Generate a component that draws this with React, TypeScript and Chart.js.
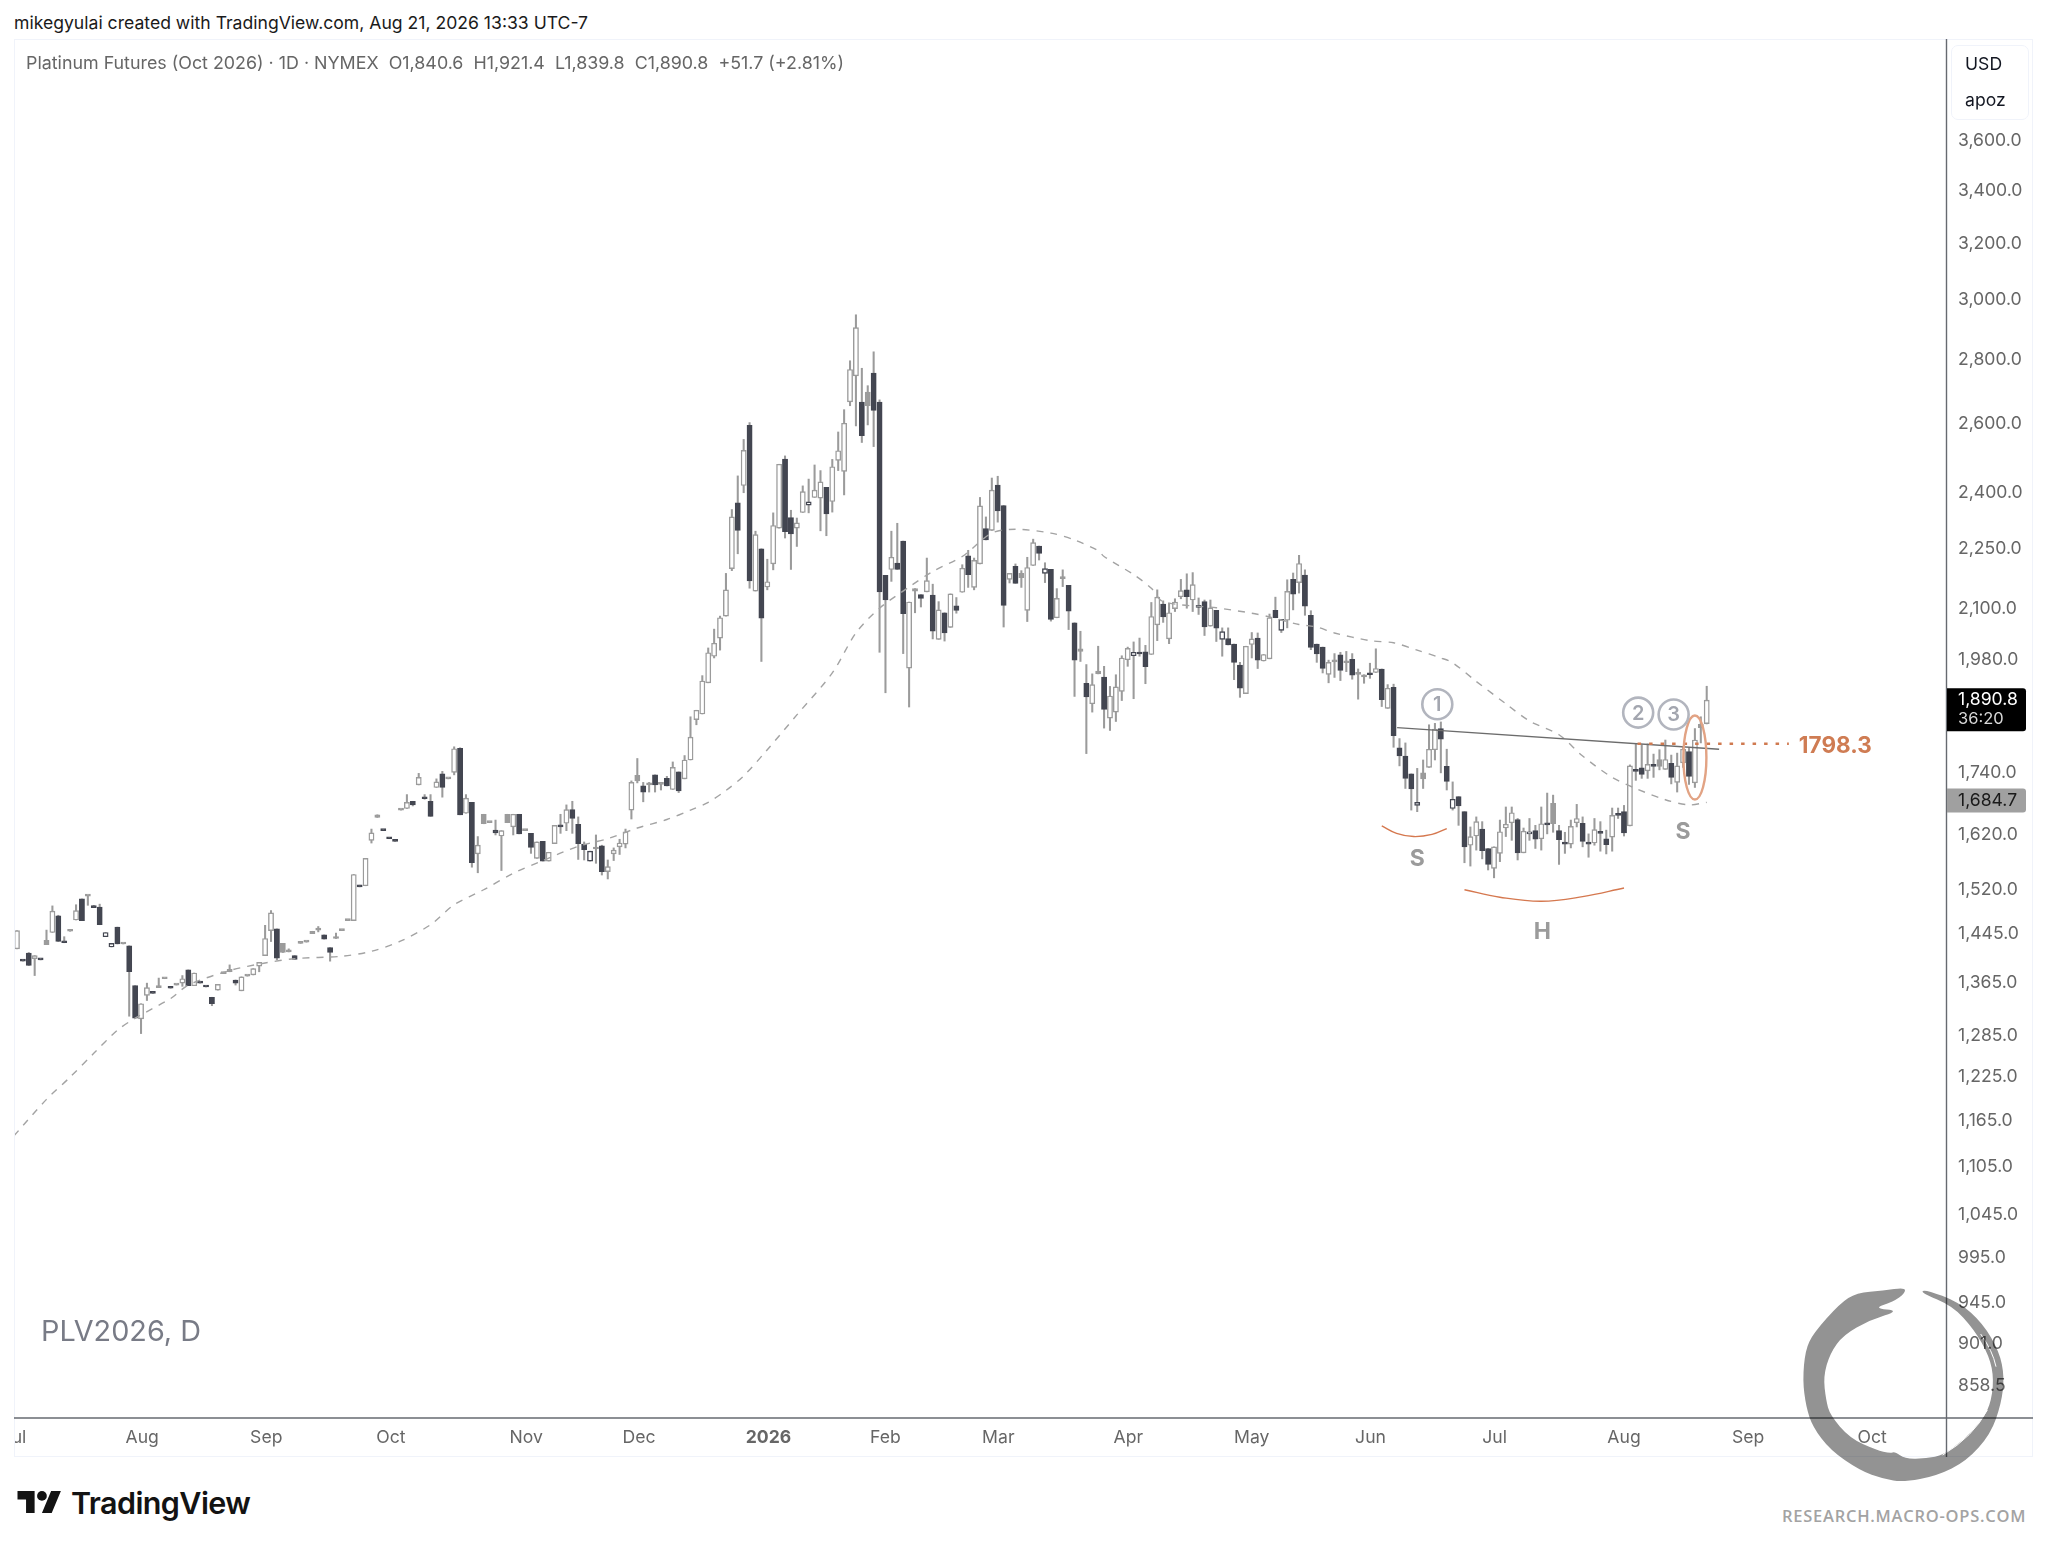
import React, { useEffect, useRef } from "react";
import { Chart, registerables } from "chart.js";

Chart.register(...registerables);

const opens = [
  1420,1402,1413,1404,1403,1427,1447,1475,1431,1449,
  1468,1504,1509,1491,1490,1440,1423,1456,1428,1425,
  1361,1310,1346,1350,1358,1372,1359,1362,1365,1386,
  1361,1366,1360,1343,1354,1380,1383,1370,1353,1376,
  1378,1392,1409,1450,1453,1414,1415,1409,1429,1431,
  1445,1451,1443,1422,1437,1450,1467,1467,1528,1527,
  1609,1652,1628,1614,1609,1666,1669,1683,1715,1690,
  1683,1710,1737,1727,1740,1789,1660,1681,1584,1640,
  1642,1628,1617,1642,1634,1658,1627,1622,1576,1607,
  1571,1603,1638,1641,1667,1639,1602,1571,1593,1599,
  1552,1584,1597,1602,1666,1723,1713,1715,1735,1716,
  1728,1706,1741,1727,1765,1849,1861,1929,1989,2031,
  2083,2200,2373,2421,2595,2144,2251,2154,2212,2305,
  2496,2333,2305,2347,2367,2388,2386,2416,2377,2492,
  2461,2666,2747,2665,2654,2756,2665,2183,2198,2214,
  2271,1962,2144,2135,2142,2134,2028,2091,2056,2108,
  2141,2233,2153,2212,2304,2299,2422,2366,2173,2206,
  2177,2097,2208,2258,2188,2198,2079,2175,2158,2067,
  2000,1928,1883,1949,1942,1852,1865,1910,1981,1990,
  1996,1999,1993,2062,2112,2029,2101,2130,2147,2122,
  2106,2118,2059,2097,2028,2030,2017,1969,1905,2016,
  2031,1978,1983,2097,2049,2073,2173,2165,2184,2085,
  2017,2010,1948,1976,1992,1974,1982,1948,1942,1948,
  1952,1960,1873,1919,1790,1773,1737,1675,1727,1750,
  1786,1830,1752,1669,1692,1663,1600,1617,1630,1594,
  1558,1585,1632,1642,1648,1586,1621,1627,1612,1640,
  1640,1627,1603,1602,1642,1641,1603,1604,1623,1612,
  1615,1658,1663,1636,1744,1749,1743,1754,1752,1746,
  1758,1720,1759,1782,1719,1832,1840.6,
];
const highs = [
  1450,1402,1414,1409,1403,1451,1492,1476,1440,1450,
  1494,1504,1510,1493,1495,1447,1429,1456,1429,1425,
  1361,1333,1365,1350,1373,1373,1359,1363,1377,1386,
  1381,1366,1360,1343,1363,1381,1394,1370,1375,1377,
  1388,1398,1459,1484,1453,1429,1420,1409,1430,1432,
  1449,1457,1443,1422,1446,1451,1468,1547,1528,1576,
  1630,1657,1628,1614,1609,1667,1696,1683,1738,1696,
  1696,1727,1742,1728,1792,1790,1696,1681,1616,1658,
  1643,1647,1627,1658,1658,1658,1628,1622,1606,1607,
  1587,1637,1658,1676,1683,1653,1606,1589,1619,1600,
  1573,1595,1611,1630,1723,1768,1720,1720,1735,1717,
  1732,1761,1741,1774,1855,1869,1945,2008,2052,2083,
  2188,2355,2448,2553,2603,2297,2251,2224,2346,2481,
  2505,2353,2332,2420,2439,2479,2463,2416,2495,2575,
  2642,2795,2947,2771,2716,2824,2672,2183,2297,2318,
  2271,2117,2150,2135,2227,2161,2118,2091,2137,2128,
  2210,2247,2227,2388,2335,2442,2447,2366,2188,2212,
  2195,2229,2276,2258,2215,2198,2150,2197,2158,2067,
  2047,1970,1949,2012,1966,1921,1947,1990,2010,2022,
  2031,2014,2116,2147,2120,2114,2125,2173,2187,2190,
  2127,2122,2122,2097,2055,2055,2017,1975,2012,2044,
  2043,1993,2088,2129,2075,2172,2189,2234,2197,2096,
  2017,2010,1980,1995,1998,2000,1995,1960,1947,1973,
  2006,1960,1925,1926,1809,1800,1737,1748,1765,1838,
  1841,1844,1787,1721,1692,1663,1634,1653,1644,1594,
  1597,1647,1672,1672,1650,1632,1650,1637,1672,1699,
  1695,1637,1624,1647,1677,1653,1621,1650,1644,1628,
  1670,1670,1675,1755,1798,1796,1798,1777,1786,1806,
  1775,1779,1792,1790,1830,1855,1921.4,
];
const lows = [
  1420,1400,1393,1377,1402,1427,1447,1432,1430,1449,
  1468,1467,1493,1489,1460,1440,1423,1428,1428,1314,
  1311,1288,1338,1349,1358,1372,1357,1362,1360,1361,
  1361,1365,1359,1330,1354,1380,1383,1362,1353,1376,
  1378,1383,1409,1432,1402,1414,1415,1403,1429,1431,
  1445,1448,1436,1400,1437,1450,1467,1467,1525,1527,
  1604,1652,1627,1612,1607,1666,1669,1674,1715,1687,
  1654,1710,1691,1727,1735,1657,1660,1560,1550,1640,
  1642,1619,1554,1642,1619,1621,1627,1585,1576,1571,
  1571,1603,1622,1627,1622,1574,1573,1571,1567,1546,
  1539,1572,1583,1595,1649,1719,1682,1701,1701,1705,
  1713,1706,1700,1727,1765,1838,1861,1929,1985,2003,
  2083,2195,2238,2401,2151,2144,1977,2147,2197,2305,
  2279,2198,2257,2347,2346,2388,2298,2285,2348,2463,
  2395,2654,2593,2544,2596,2532,1998,1907,2168,2198,
  1995,1876,2091,2105,2142,2029,2028,2024,2056,2090,
  2141,2153,2147,2212,2274,2299,2321,2057,2164,2163,
  2153,2070,2208,2222,2165,2071,2079,2155,2051,1899,
  1977,1778,1865,1949,1831,1826,1845,1890,1966,1894,
  1989,1927,1993,2025,2068,2018,2094,2125,2102,2094,
  2087,2037,2059,2023,1989,2015,1936,1897,1905,1985,
  1961,1978,1983,2079,2044,2055,2098,2139,2085,2004,
  1975,1951,1929,1941,1934,1954,1937,1893,1928,1939,
  1952,1877,1873,1791,1753,1708,1666,1663,1708,1750,
  1765,1739,1705,1666,1637,1568,1562,1591,1575,1555,
  1541,1570,1616,1609,1573,1586,1609,1594,1591,1621,
  1624,1565,1585,1595,1634,1597,1578,1600,1589,1584,
  1589,1650,1617,1636,1724,1728,1728,1730,1745,1746,
  1717,1701,1750,1716,1710,1800,1839.8,
];
const closes = [
  1450,1400,1393,1409,1402,1434,1483,1432,1430,1450,
  1484,1467,1510,1489,1460,1447,1429,1428,1429,1383,
  1311,1333,1358,1349,1359,1373,1357,1363,1372,1361,
  1381,1365,1359,1333,1363,1381,1387,1365,1375,1377,
  1388,1398,1437,1480,1405,1429,1417,1403,1430,1432,
  1449,1452,1436,1414,1439,1451,1468,1547,1525,1576,
  1623,1657,1627,1612,1607,1667,1681,1676,1730,1688,
  1654,1721,1710,1728,1788,1657,1689,1568,1600,1658,
  1643,1623,1627,1658,1658,1621,1628,1596,1606,1571,
  1587,1637,1634,1667,1650,1603,1592,1589,1594,1552,
  1561,1591,1604,1625,1720,1734,1701,1717,1715,1717,
  1713,1750,1703,1765,1812,1869,1933,1997,2019,2079,
  2147,2335,2299,2521,2169,2288,2078,2167,2312,2481,
  2296,2290,2319,2404,2376,2408,2431,2343,2474,2520,
  2601,2767,2904,2564,2696,2640,2142,2122,2229,2198,
  2089,2117,2150,2126,2170,2047,2098,2043,2137,2097,
  2201,2185,2221,2365,2274,2408,2351,2109,2188,2163,
  2188,2203,2267,2239,2200,2075,2126,2176,2095,1980,
  2006,1898,1925,1955,1871,1900,1920,1985,2007,1998,
  1994,1965,2082,2129,2081,2091,2117,2145,2130,2160,
  2104,2057,2103,2054,2046,2015,1975,1917,2012,2029,
  1980,1993,2079,2079,2075,2143,2136,2213,2107,2009,
  1994,1961,1975,1979,1957,1976,1946,1951,1947,1947,
  1961,1892,1917,1815,1773,1728,1707,1681,1739,1787,
  1829,1808,1722,1687,1674,1597,1616,1644,1590,1565,
  1597,1625,1639,1661,1586,1626,1624,1611,1640,1638,
  1679,1610,1602,1635,1650,1607,1602,1629,1622,1601,
  1656,1656,1623,1753,1742,1736,1756,1752,1766,1766,
  1730,1753,1787,1732,1806,1839.1,1890.8,
];
// candle numbers (1-based) drawn solid grey / outlined dark
const greyCandles = [6,10,13,19,25,26,28,36,37,40,46,47,49,50,51,52,55,56,57,62,66,74,80,81,84,87,99,106,108,110,145,153,171,178,181,184,224,226,228,229,239,261,279,286];
const outlinedCandles = [16,17,98,135,175,190,205,215,238,244,257];

const maBars = [-0.5,5,9,13,17,20,26,29,36,42,47,55,60,65,70,74,79,84,89,95,100,105,110,114,117,120,123,127,132,138,142,146,151,155,160,165,169,175,179,183,184,189,192,194,203,209,212,217,220,223,229,233,237,241,243,247,252,256,261,265,270,274,279,283,286];
const maValues = [1145,1194,1225,1259,1293,1311,1341,1362,1385,1397,1404,1408,1416,1433,1460,1494,1520,1549,1572,1598,1612,1632,1648,1666,1681,1704,1733,1786,1859,1951,2043,2102,2154,2193,2231,2292,2302,2292,2274,2246,2231,2185,2151,2118,2103,2090,2081,2063,2057,2043,2025,2020,2003,1985,1974,1932,1883,1846,1817,1773,1730,1708,1686,1676,1681];

const priceTicks = [3600,3400,3200,3000,2800,2600,2400,2250,2100,1980,1860,1740,1620,1520,1445,1365,1285,1225,1165,1105,1045,995,945,901,858.5];
const monthLabels = ["Jul","Aug","Sep","Oct","Nov","Dec","2026","Feb","Mar","Apr","May","Jun","Jul","Aug","Sep","Oct"];
const monthBars = [-0.5,21.2,42.2,63.3,86.2,105.3,127.2,147,166.1,188.1,209,229.1,250.1,272,293,314];

const neckBars = [233.6,288.1];
const neckPrices = [1832,1787];
const leftCurveBars = [231,233.5,236.4,239.5,242];
const leftCurvePrices = [1636,1622,1616,1620,1631];
const headCurveBars = [245,251,258,265,272];
const headCurvePrices = [1520,1507,1500,1508,1523];
const levelValue = 1798.3;
const levelBars = [274.3,299.9];
const lastClose = 1890.8;
const maLast = 1684.7;

const patternLabels = ["S","H","S"];
const patternBars = [237,258.2,282];
const patternPrices = [1575,1447,1624];
const circleLabels = ["1","2","3"];
const circleBars = [240.4,274.4,280.4];
const circlePrices = [1882,1864,1860];
const ellipseBar = 284;
const ellipsePrice = 1770;

const FONT = "Inter, 'Noto Sans', sans-serif";
const W = 2019, H = 1418;
const noPad = (s: any) => { s.paddingLeft = 0; s.paddingRight = 0; s.paddingTop = 0; s.paddingBottom = 0; };

const overlay = {
  id: "overlay",
  afterDatasetsDraw(chart: any) {
    const { ctx, chartArea, scales } = chart;
    const x = scales.x, y = scales.y;
    const L = chartArea.left, R = chartArea.right, B = chartArea.bottom;
    ctx.save();
    ctx.strokeStyle = "#f0f3fa"; ctx.lineWidth = 1;
    ctx.strokeRect(0.5, 0.5, W - 1, H - 1);
    ctx.strokeStyle = "#666a70"; ctx.lineWidth = 1.4;
    ctx.beginPath(); ctx.moveTo(R + 0.5, 0); ctx.lineTo(R + 0.5, H); ctx.stroke();
    ctx.beginPath(); ctx.moveTo(L, B); ctx.lineTo(W, B); ctx.stroke();
    ctx.strokeStyle = "#d07a50"; ctx.lineWidth = 2.5; ctx.setLineDash([3.5, 8]);
    ctx.beginPath();
    ctx.moveTo(x.getPixelForValue(levelBars[0]), y.getPixelForValue(levelValue));
    ctx.lineTo(x.getPixelForValue(levelBars[1]), y.getPixelForValue(levelValue));
    ctx.stroke(); ctx.setLineDash([]);
    ctx.fillStyle = "#cf7c53"; ctx.font = "700 22.5px " + FONT; ctx.textAlign = "left"; ctx.textBaseline = "middle";
    ctx.fillText(String(levelValue), x.getPixelForValue(levelBars[1]) + 10, y.getPixelForValue(levelValue) + 2);
    ctx.strokeStyle = "#e2a384"; ctx.lineWidth = 2.4;
    ctx.beginPath();
    ctx.ellipse(x.getPixelForValue(ellipseBar), y.getPixelForValue(ellipsePrice), 11.5, 42, 0, 0, Math.PI * 2);
    ctx.stroke();
    ctx.fillStyle = "#9b9b9b"; ctx.font = "700 23px " + FONT; ctx.textAlign = "center";
    patternLabels.forEach((t, i) => ctx.fillText(t, x.getPixelForValue(patternBars[i]), y.getPixelForValue(patternPrices[i])));
    circleLabels.forEach((t, i) => {
      const cx = x.getPixelForValue(circleBars[i]), cy = y.getPixelForValue(circlePrices[i]);
      ctx.strokeStyle = "#b2b5be"; ctx.lineWidth = 2.6;
      ctx.beginPath(); ctx.arc(cx, cy, 15, 0, Math.PI * 2); ctx.stroke();
      ctx.fillStyle = "#a3a6af"; ctx.font = "600 20px " + FONT;
      ctx.fillText(t, cx, cy + 1);
    });
    const tagR = W - 7;
    const cY = y.getPixelForValue(lastClose);
    ctx.fillStyle = "#000";
    ctx.beginPath(); ctx.roundRect(R + 1, cY - 12, tagR - R - 1, 43, [0, 3, 3, 0]); ctx.fill();
    ctx.fillStyle = "#fff"; ctx.font = "17.6px " + FONT; ctx.textAlign = "left";
    ctx.fillText(lastClose.toLocaleString("en-US", { minimumFractionDigits: 1 }), R + 12, cY);
    ctx.fillStyle = "#d8d8d8"; ctx.font = "16.5px " + FONT; ctx.fillText("36:20", R + 12, cY + 19);
    const mY = y.getPixelForValue(maLast);
    ctx.fillStyle = "#a0a0a0";
    ctx.beginPath(); ctx.roundRect(R + 1, mY - 12, tagR - R - 1, 24, [0, 3, 3, 0]); ctx.fill();
    ctx.fillStyle = "#1a1a1a"; ctx.font = "17.6px " + FONT;
    ctx.fillText(maLast.toLocaleString("en-US", { minimumFractionDigits: 1 }), R + 12, mY);
    ctx.restore();
  },
};

const snakeOutline = [[465,82],[400,92],[320,98],[270,130],[190,220],[166,270],[158,360],[168,440],[188,500],[240,570],[330,632],[400,657],[460,666],[560,648],[650,603],[722,522],[754,430],[763,350],[748,275],[698,190],[628,127],[525,88],[512,98],[608,138],[672,208],[718,288],[732,360],[720,440],[688,490],[640,540],[580,585],[530,595],[465,597],[435,575],[420,580],[380,570],[300,535],[240,465],[228,420],[220,350],[240,280],[280,225],[360,180],[450,152],[370,145],[430,125],[465,100]];
const snakePath = () => {
  const n = snakeOutline.length;
  const mid = (a: number[], b: number[]) => `${(a[0] + b[0]) / 2} ${(a[1] + b[1]) / 2}`;
  let d = "M" + mid(snakeOutline[n - 1], snakeOutline[0]);
  for (let i = 0; i < n; i++) d += ` Q${snakeOutline[i][0]} ${snakeOutline[i][1]} ${mid(snakeOutline[i], snakeOutline[(i + 1) % n])}`;
  return d + "Z";
};

export default function App() {
  const ref = useRef<HTMLCanvasElement | null>(null);
  useEffect(() => {
    const greySet = new Set(greyCandles);
    const outlineSet = new Set(outlinedCandles);
    const fill = opens.map((o, i) => {
      const n = i + 1;
      if (greySet.has(n)) return "#9b9b9b";
      if (outlineSet.has(n)) return "#ffffff";
      return closes[i] >= o ? "#ffffff" : "#434651";
    });
    const edge = opens.map((o, i) => {
      const n = i + 1;
      if (greySet.has(n)) return "#9b9b9b";
      if (outlineSet.has(n)) return "#434651";
      return closes[i] >= o ? "#9b9b9b" : "#434651";
    });
    const chart = new Chart(ref.current as HTMLCanvasElement, {
      type: "bar",
      data: {
        datasets: [
          {
            type: "bar", label: "wicks", order: 4, grouped: false, barThickness: 1.4,
            data: lows.map((l, i) => ({ x: i, y: [l, highs[i]] })),
            backgroundColor: "#9b9b9b", borderWidth: 0,
          },
          {
            type: "bar", label: "bodies", order: 3, grouped: false, barThickness: 5.2, minBarLength: 2,
            data: opens.map((o, i) => ({ x: i, y: [o, closes[i]] })),
            backgroundColor: fill, borderColor: edge, borderWidth: 1.4, borderSkipped: false,
          },
          {
            type: "line", label: "MA", order: 2, pointRadius: 0, borderColor: "#a3a3a3", borderWidth: 1.4,
            borderDash: [7, 7], tension: 0.3,
            data: maBars.map((b, i) => ({ x: b, y: maValues[i] })),
          },
          {
            type: "line", label: "neck", order: 1, pointRadius: 0, borderColor: "#6c6c6c", borderWidth: 1.4,
            data: neckBars.map((b, i) => ({ x: b, y: neckPrices[i] })),
          },
          {
            type: "line", label: "left", order: 1, pointRadius: 0, borderColor: "#d5784f", borderWidth: 1.4, tension: 0.4,
            data: leftCurveBars.map((b, i) => ({ x: b, y: leftCurvePrices[i] })),
          },
          {
            type: "line", label: "head", order: 1, pointRadius: 0, borderColor: "#d5784f", borderWidth: 1.4, tension: 0.4,
            data: headCurveBars.map((b, i) => ({ x: b, y: headCurvePrices[i] })),
          },
        ] as any,
      },
      options: {
        responsive: false,
        animation: false,
        devicePixelRatio: 1,
        layout: { padding: 0, autoPadding: false },
        plugins: { legend: { display: false }, tooltip: { enabled: false } },
        scales: {
          x: {
            type: "linear", min: -0.5, max: 326.5, offset: false,
            grid: { display: false, drawTicks: false }, border: { display: false },
            afterBuildTicks: (s: any) => { s.ticks = monthBars.map((value) => ({ value })); },
            afterFit: (s: any) => { s.height = 39; noPad(s); },
            ticks: {
              autoSkip: false, maxRotation: 0, padding: 9, color: "#666",
              font: (c: any) => ({ family: FONT, size: 17.6, weight: c.tick && monthLabels[monthBars.indexOf(c.tick.value)] === "2026" ? 700 : 400 }),
              callback: (v: any) => monthLabels[monthBars.indexOf(v)],
            },
          },
          y: {
            type: "logarithmic", position: "right", min: 827.3, max: 4048.6,
            grid: { display: false, drawTicks: false }, border: { display: false },
            afterBuildTicks: (s: any) => { s.ticks = priceTicks.map((value) => ({ value })); },
            afterFit: (s: any) => { s.width = 87; noPad(s); },
            ticks: {
              autoSkip: false, padding: 12, color: "#666", font: { family: FONT, size: 17.6 },
              callback: (v: any) => Number(v).toLocaleString("en-US", { minimumFractionDigits: 1, maximumFractionDigits: 1 }),
            },
          },
        },
      } as any,
      plugins: [overlay],
    });
    return () => chart.destroy();
  }, []);

  const abs = (x: number, y: number, extra: any = {}) => ({ position: "absolute", left: x, top: y, lineHeight: 1, whiteSpace: "pre", fontFamily: FONT, ...extra });
  return (
    <div style={{ position: "absolute", left: 0, top: 0, width: 2048, height: 1547, background: "#fff", overflow: "hidden" }}>
      <div style={abs(14, 14, { fontSize: 17.6, color: "#1a1a1a" }) as any}>mikegyulai created with TradingView.com, Aug 21, 2026 13:33 UTC-7</div>
      <canvas ref={ref} width={W} height={H} style={{ position: "absolute", left: 14, top: 39, width: W, height: H }} />
      <div style={abs(26, 54, { fontSize: 17.85, color: "#666" }) as any}>{"Platinum Futures (Oct 2026) · 1D · NYMEX  O1,840.6  H1,921.4  L1,839.8  C1,890.8  +51.7 (+2.81%)"}</div>
      <div style={{ position: "absolute", left: 1951, top: 45, width: 76, height: 73, border: "1px solid #f0f3fa", borderRadius: 7 }} />
      <div style={abs(1965, 55, { fontSize: 17.6, color: "#131722" }) as any}>USD</div>
      <div style={abs(1965, 91, { fontSize: 17.6, color: "#131722" }) as any}>apoz</div>
      <div style={abs(41, 1317, { fontSize: 28.8, color: "#787b86" }) as any}>PLV2026, D</div>
      <svg style={{ position: "absolute", left: 17, top: 1491 }} width="45" height="22" viewBox="0 0 36 18">
        <path d="M14 18H7V7H0V0h14v18zM28 18h-8l7.5-18h8L28 18z" fill="#131313" />
        <circle cx="20" cy="4" r="4" fill="#131313" />
      </svg>
      <div style={abs(71, 1488, { fontSize: 30.5, fontWeight: 600, color: "#131313", letterSpacing: -0.6 }) as any}>TradingView</div>
      <div style={abs(1782, 1508, { fontSize: 16.5, fontWeight: 600, color: "#a3a3a3", letterSpacing: 0.75, fontFamily: "'Open Sans', sans-serif" }) as any}>RESEARCH.MACRO-OPS.COM</div>
      <svg style={{ position: "absolute", left: 1750, top: 1260, mixBlendMode: "multiply" }} width="298" height="287" viewBox="0 0 894 861">
        <path fill="#939393" d={snakePath()} />
        <path fill="none" stroke="#fff" strokeWidth="3" d="M692 222 Q728 272 738 320" />
        <path fill="none" stroke="#fff" strokeWidth="3" d="M578 585 Q670 530 712 450" />
      </svg>
    </div>
  );
}
